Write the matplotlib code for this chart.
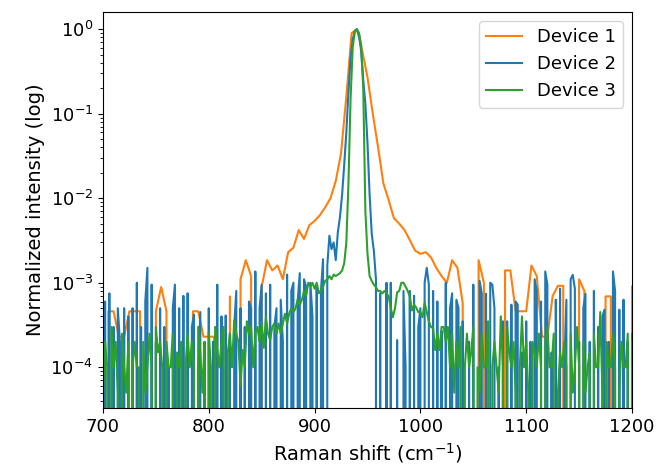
import numpy as np
import matplotlib
matplotlib.use("Agg")
import matplotlib.pyplot as plt

# Raman shift axes (cm^-1)
shift_dev1 = np.arange(700, 1200.1, 5.0)      # 101 points
shift_dev23 = np.arange(700, 1200.1, 2.0)     # 251 points

# normalized intensities, in units of 1e-4 (0 = below noise floor)
dev1_e4 = [
    0, 4.6, 4.6, 2.3, 2.3, 4.6, 4.6, 4.6, 0, 0,
    4.6, 8.9, 4.6, 0, 0, 0, 0, 4.6, 4.6, 2.3,
    2.3, 2.3, 0, 0, 6.9, 0, 11, 18.5, 12, 0,
    8.9, 18.5, 14, 16, 11, 23, 26, 42, 33, 48,
    54, 63, 78, 100, 160, 340, 1600, 9000, 10000, 5600,
    2700, 1000, 400, 150, 95, 58, 50, 42, 32, 24,
    22, 23, 20, 15, 12, 10, 18.5, 15, 5.7, 0,
    0, 18.5, 10, 0, 0, 0, 14, 14, 4.6, 4.6,
    4.6, 16, 12, 2.3, 2.3, 7, 9.2, 9.2, 0, 0,
    11, 8, 0, 0, 0, 6.9, 6.9, 0, 0, 0,
    9,
]

dev2_e4 = [
    0, 6, 0, 7.5, 0, 3, 0, 5, 2, 0,
    5, 0, 4, 0, 5, 0, 10, 0, 3, 0,
    6, 15, 0, 9.5, 0, 2, 0, 5, 0, 3,
    0, 1, 0, 5, 9.5, 0, 5, 0, 7, 0,
    7.5, 0, 3, 4.2, 0, 1, 4.5, 0, 2, 0,
    5, 0, 2, 0, 9.5, 0, 4, 0, 4.1, 0,
    2.5, 0, 3, 8, 0, 5, 0, 3, 0, 6,
    5, 0, 13.6, 0, 5, 9.5, 0, 7.5, 0, 9.5,
    0, 3, 5, 0, 6.3, 2, 0, 12.5, 0, 8,
    10, 0, 6, 13, 0, 11, 9, 0, 10, 4,
    0, 9, 0, 8, 19, 0, 16, 36, 25, 30,
    18.5, 40, 60, 110, 250, 600, 1800, 4500, 7500, 9500,
    10000, 8500, 5500, 2500, 1300, 450, 110, 38, 24, 11,
    0, 7.5, 0, 0, 10, 0, 10, 0, 0, 2.1,
    0, 0, 8, 1, 0, 8, 0, 7, 0, 3,
    5, 0, 10, 15, 9.5, 0, 8, 0, 6, 0,
    2.7, 0, 10, 0, 5, 7.5, 0, 6.3, 5, 0,
    3.5, 0, 0, 2, 0, 9.5, 0, 0, 10.5, 7.4,
    0, 7.4, 0, 10, 9.5, 5, 0, 1, 0, 3.5,
    0, 3.5, 0, 5.5, 0, 6, 5.5, 0, 1.5, 0,
    3.5, 0, 2, 0, 11, 8, 0, 6, 0, 13.6,
    9.5, 0, 1.5, 0, 6.3, 0, 8.5, 0, 1, 6.3,
    0, 11, 12.4, 8.5, 0, 2, 0, 5, 7.4, 0,
    2, 0, 8, 0, 3, 0, 4, 4.8, 0, 2,
    0, 13.6, 8, 0, 4.8, 0, 6.3, 0, 2, 0,
    2.5,
]

dev3_e4 = [
    0.5, 2, 1, 0, 3, 1, 2, 0.5, 0, 2.5,
    1, 0.5, 2, 0, 1, 2, 1, 1, 0, 2,
    0.5, 1, 2.5, 1, 0, 3, 1.5, 2, 1, 0,
    2, 1, 1, 2.5, 0, 1.5, 1, 2, 0, 1,
    2.5, 1, 2, 1, 0, 3, 1.5, 0.5, 2, 0,
    2.6, 1, 0, 3, 1.6, 1, 2, 3, 0, 1.5,
    2.5, 1, 3.6, 2.5, 2, 0.6, 1.6, 1, 3.5, 2.5,
    3, 1, 2.5, 3, 2, 3.3, 1.7, 3.9, 2.5, 2.1,
    3, 3.3, 2.5, 3.3, 2.5, 3.3, 4.3, 3.3, 4.3, 5,
    4.5, 5, 6.3, 5.5, 6.3, 8, 7, 10, 9, 10,
    8.5, 10, 7.5, 8.1, 9, 10.5, 11, 12, 11, 12.5,
    12, 12.5, 13, 14, 17, 30, 150, 1500, 6000, 9500,
    10000, 9000, 6500, 2000, 70, 22, 12, 10.5, 9.5, 8.9,
    8, 8, 7.5, 8, 7.5, 6.9, 5, 3.9, 5, 7.7,
    8, 10, 10, 9, 8, 6.9, 4.7, 5.5, 5.1, 4.5,
    4.5, 3.9, 5.8, 4.5, 3.5, 3, 2.9, 1.6, 2.5, 1.6,
    3, 3, 2, 3, 1, 2.5, 0.5, 2, 1, 3,
    0, 1, 2.5, 1, 1.5, 3, 0, 1, 0.5, 2.5,
    1, 1, 3.5, 0, 1, 2, 1, 0.5, 4, 1,
    0, 3, 1.5, 1, 2, 0.5, 0, 1, 4, 1,
    2, 0.5, 0, 2, 1.5, 1, 2.5, 1, 0, 2,
    3, 1, 1, 2.5, 0, 0.5, 1.5, 1, 2, 1,
    0, 2.5, 0.5, 1, 3, 1, 0, 2, 0.5, 1,
    1.5, 0, 2.5, 1, 1, 4.5, 0.5, 0, 2, 1,
    1, 2.5, 1, 0, 0.5, 2, 1, 1, 2.5, 0,
    2,
]

labels = ["Device 1", "Device 2", "Device 3"]
colors = ["tab:orange", "tab:blue", "tab:green"]

dev1 = np.array(dev1_e4) * 1e-4
dev2 = np.array(dev2_e4) * 1e-4
dev3 = np.array(dev3_e4) * 1e-4

fig = plt.figure(figsize=(6.58, 4.70), dpi=100)
ax = fig.add_axes([0.1565, 0.132, 0.804, 0.8425])

ax.plot(shift_dev1, dev1, color=colors[0], label=labels[0])
ax.plot(shift_dev23, dev2, color=colors[1], label=labels[1])
ax.plot(shift_dev23, dev3, color=colors[2], label=labels[2])

ax.set_yscale("log")
ax.set_xlim(700, 1200)
ax.set_ylim(3.3e-5, 1.6)
ax.tick_params(labelsize=13)
ax.set_xlabel("Raman shift (cm$^{-1}$)", fontsize=14)
ax.set_ylabel("Normalized intensity (log)", fontsize=14)
ax.legend(loc="upper right", fontsize=13)

fig.savefig("out.png", dpi=100)
